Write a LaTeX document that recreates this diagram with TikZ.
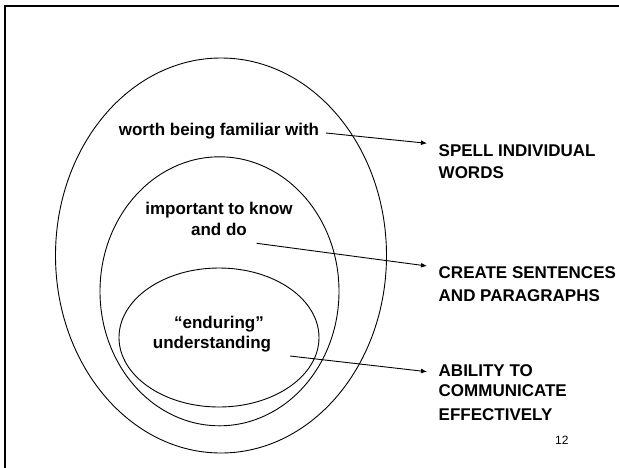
\documentclass[tikz,border=0pt]{standalone}
\usepackage{fontspec}
\setmainfont{Liberation Sans}
\usetikzlibrary{shapes.geometric,arrows.meta}
\tikzset{
  ring/.style={ellipse, draw, line width=0.9pt, inner sep=0pt, outer sep=0pt},
  lbl/.style={font=\fontsize{17}{21}\selectfont\bfseries, inner sep=0pt, anchor=base},
  rlbl/.style={font=\fontsize{17}{21}\selectfont\bfseries, inner sep=0pt, anchor=base west},
  pointer/.style={line width=0.9pt, -{Latex[length=6pt,width=5pt]}}
}
\begin{document}
\begin{tikzpicture}[x=1pt,y=-1pt]
\useasboundingbox (0,0) rectangle (619,467);
% frame
\draw[line width=1.7pt, line join=miter] (4.7,470) -- (4.7,5.7) -- (622,5.7);
% ellipses
\node[ring, minimum width=331pt, minimum height=395pt] (outer) at (221,255.5) {};
\node[ring, minimum width=239pt, minimum height=269pt] (middle) at (219.5,291.3) {};
\node[ring, minimum width=200pt, minimum height=139pt] (inner) at (219,337.5) {};
% left labels
\node[lbl] (worth) at (219,135) {worth being familiar with};
\node[lbl] (imp1) at (219,214) {important to know};
\node[lbl] (imp2) at (219,235) {and do};
\node[lbl] (end1) at (219,328) {“enduring”};
\node[lbl] (end2) at (212,348) {understanding};
% right labels
\node[rlbl] (spell1) at (438.5,156) {SPELL INDIVIDUAL};
\node[rlbl] (spell2) at (438.5,178.5) {WORDS};
\node[rlbl] (create1) at (438.5,278) {CREATE SENTENCES};
\node[rlbl] (create2) at (438.5,301) {AND PARAGRAPHS};
\node[rlbl] (abil1) at (438.5,376) {ABILITY TO};
\node[rlbl] (abil2) at (438.5,396) {COMMUNICATE};
\node[rlbl] (abil3) at (438.5,420) {EFFECTIVELY};
\node[font=\fontsize{12}{14}\selectfont, inner sep=0pt, anchor=base west] (pagenum) at (555,444) {12};
% arrows
\coordinate (a1s) at (326,133);
\coordinate (a1e) at (427,143.3);
\coordinate (a2s) at (256.7,243.3);
\coordinate (a2e) at (427,266);
\coordinate (a3s) at (290,356);
\coordinate (a3e) at (427,371.7);
\draw[pointer] (a1s) -- (a1e);
\draw[pointer] (a2s) -- (a2e);
\draw[pointer] (a3s) -- (a3e);
\end{tikzpicture}
\end{document}
